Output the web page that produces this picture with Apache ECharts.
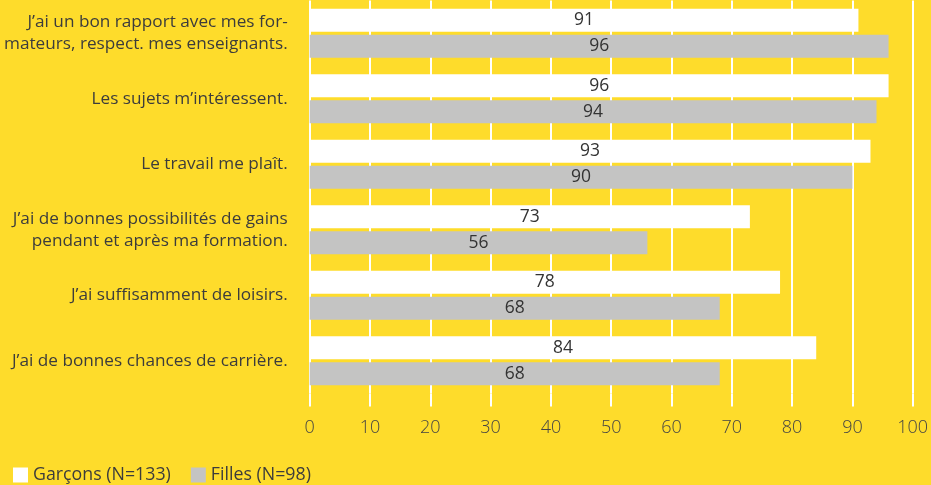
<!DOCTYPE html>
<html><head><meta charset="utf-8">
<script src="https://cdn.jsdelivr.net/npm/echarts@6/dist/echarts.min.js"></script>
<style>html,body{margin:0;padding:0;background:#FEDC2B;}#c{width:931px;height:485px;}</style>
</head><body><div id="c"></div>
<script>
const categories = [
  "J’ai un bon rapport avec mes for-\nmateurs, respect. mes enseignants.",
  "Les sujets m’intéressent.",
  "Le travail me plaît.",
  "J’ai de bonnes possibilités de gains\npendant et après ma formation.",
  "J’ai suffisamment de loisirs.",
  "J’ai de bonnes chances de carrière."
];
const garcons = [91, 96, 93, 73, 78, 84];
const filles = [96, 94, 90, 56, 68, 68];
const xTicks = [0, 10, 20, 30, 40, 50, 60, 70, 80, 90, 100];
const seriesNames = ["Garçons (N=133)", "Filles (N=98)"];

const FONT = "'Open Sans', sans-serif";
const chart = echarts.init(document.getElementById('c'));
chart.setOption({
  backgroundColor: '#FEDC2B',
  animation: false,
  grid: { left: 309.7, right: 18.3, top: 0.5, height: 393, containLabel: false, outerBoundsMode: 'none' },
  legend: {
    left: 8, top: 461, itemWidth: 15, itemHeight: 15, itemGap: 20,
    icon: 'rect',
    textStyle: { fontFamily: FONT, fontSize: 17.8, color: '#3c3c3c' },
    data: seriesNames
  },
  xAxis: {
    type: 'value', min: xTicks[0], max: xTicks[xTicks.length - 1], interval: 10,
    axisLine: { show: false },
    axisTick: { show: true, inside: false, length: 13, lineStyle: { color: '#fff', width: 2 } },
    splitLine: { show: true, lineStyle: { color: '#fff', width: 2 } },
    axisLabel: { margin: 25, fontFamily: FONT, fontWeight: 300, fontSize: 18, color: '#444' }
  },
  yAxis: {
    type: 'category', data: categories, inverse: true,
    axisLine: { show: false }, axisTick: { show: false },
    axisLabel: { margin: 22, fontFamily: FONT, fontSize: 17.2, color: '#3c3c3c', align: 'right', lineHeight: 22 }
  },
  series: [
    {
      name: seriesNames[0], type: 'bar', data: garcons, barWidth: 23, barGap: '13%',
      itemStyle: { color: '#ffffff' },
      label: { show: true, position: 'inside', fontFamily: FONT, fontSize: 17.5, color: '#333' }
    },
    {
      name: seriesNames[1], type: 'bar', data: filles, barWidth: 23, barGap: '13%',
      itemStyle: { color: '#c4c4c3' },
      label: { show: true, position: 'inside', fontFamily: FONT, fontSize: 17.5, color: '#333' }
    }
  ]
});
</script></body></html>
